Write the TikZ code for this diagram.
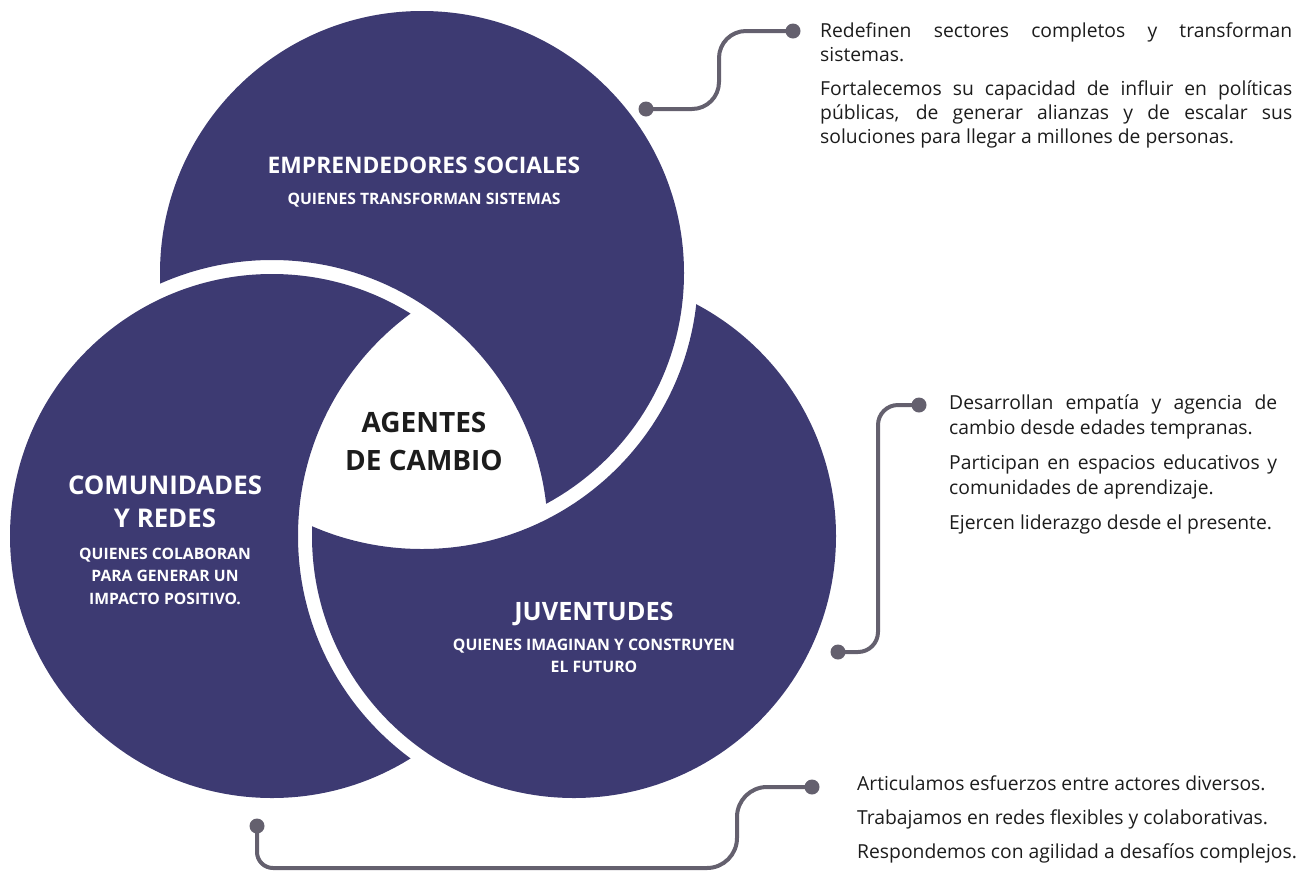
\documentclass[tikz,border=0pt]{standalone}
\usepackage{fontspec}
\setmainfont{Open Sans}
\definecolor{circ}{RGB}{61,58,114}
\definecolor{conn}{RGB}{100,96,110}
\definecolor{txt}{RGB}{28,28,28}
\newcommand{\stt}[1]{\rule{0pt}{#1pt}}
\tikzset{
  connline/.style={draw=conn, line width=4pt, line cap=round},
  dotnode/.style={circle, fill=conn, minimum size=15pt, inner sep=0pt},
  para/.style={anchor=north west, inner sep=0pt, align=left, text=txt, font=\fontsize{19.3}{24.5}\selectfont},
  head/.style={anchor=north, inner sep=0pt, align=center, text=white, font=\bfseries\fontsize{25.8}{33}\selectfont},
  sub/.style={anchor=north, inner sep=0pt, align=center, text=white, font=\bfseries\fontsize{15.7}{22.5}\selectfont},
}
\begin{document}
\begin{tikzpicture}[x=1pt, y=-1pt]
\useasboundingbox (0,0) rectangle (1307,871);
\coordinate (A) at (422,273);
\coordinate (B) at (272,536);
\coordinate (C) at (574,536);
% swirl circles
\begin{scope}[even odd rule]
  \clip (-20,-20) rectangle (1330,890) (B) circle (276pt);
  \fill[circ] (A) circle (262pt);
\end{scope}
\begin{scope}[even odd rule]
  \clip (-20,-20) rectangle (1330,890) (C) circle (276pt);
  \fill[circ] (B) circle (262pt);
\end{scope}
\begin{scope}[even odd rule]
  \clip (-20,-20) rectangle (1330,890) (A) circle (276pt);
  \fill[circ] (C) circle (262pt);
\end{scope}

% circle labels
\node[head, font=\bfseries\fontsize{22.8}{30}\selectfont] (emp) at (424,157) {\stt{16.2}EMPRENDEDORES SOCIALES};
\node[sub] (empsub) at (424,193) {\stt{11.6}QUIENES TRANSFORMAN SISTEMAS};
\node[head, text=txt, font=\bfseries\fontsize{28}{38.5}\selectfont] (agentes) at (424,411.5) {\stt{20.3}AGENTES\\DE CAMBIO};
\node[head] (com) at (165,475.5) {\stt{18.6}COMUNIDADES\\Y REDES};
\node[sub] (comsub) at (165,547.5) {\stt{11.6}QUIENES COLABORAN\\PARA GENERAR UN\\IMPACTO POSITIVO.};
\node[head, font=\bfseries\fontsize{25.3}{33}\selectfont] (juv) at (594,602) {\stt{18.2}JUVENTUDES};
\node[sub, font=\bfseries\fontsize{15.8}{22}\selectfont] (juvsub) at (594,638.5) {\stt{11.6}QUIENES IMAGINAN Y CONSTRUYEN\\EL FUTURO};

% text blocks
\node[para, font=\fontsize{19.3}{24}\selectfont] (t1) at (820,21) {\stt{16}\makebox[472pt][s]{Redefinen sectores completos y transforman}\\
sistemas.\\[10pt]
\makebox[472pt][s]{Fortalecemos su capacidad de influir en políticas}\\
\makebox[472pt][s]{públicas, de generar alianzas y de escalar sus}\\
soluciones para llegar a millones de personas.};
\node[para, font=\fontsize{19.3}{25}\selectfont] (t2) at (949,393) {\stt{16}\makebox[328pt][s]{Desarrollan empatía y agencia de}\\
cambio desde edades tempranas.\\[10pt]
\makebox[328pt][s]{Participan en espacios educativos y}\\
comunidades de aprendizaje.\\[10pt]
Ejercen liderazgo desde el presente.};
\node[para, font=\fontsize{19.3}{34}\selectfont] (t3) at (857,774) {\stt{16}Articulamos esfuerzos entre actores diversos.\\
Trabajamos en redes flexibles y colaborativas.\\
Respondemos con agilidad a desafíos complejos.};

% connectors
\node[dotnode] (d1a) at (793,31) {};
\node[dotnode] (d1b) at (646,109) {};
\coordinate (k1) at (719,31);
\coordinate (k2) at (719,109);
\draw[connline, rounded corners=27pt] (d1a.center) -- (k1) -- (k2) -- (d1b.center);

\node[dotnode] (d2a) at (919,405) {};
\node[dotnode] (d2b) at (838,652) {};
\coordinate (k3) at (878,405);
\coordinate (k4) at (878,652);
\draw[connline, rounded corners=20pt] (d2a.center) -- (k3) -- (k4) -- (d2b.center);

\node[dotnode] (d3a) at (812,787) {};
\node[dotnode] (d3b) at (257,826) {};
\coordinate (k5) at (737,787);
\coordinate (k6) at (737,868);
\coordinate (k7) at (257,868);
\draw[connline, rounded corners=30pt] (d3a.center) -- (k5) -- (k6) [rounded corners=16pt] -- (k7) -- (d3b.center);
\end{tikzpicture}
\end{document}
